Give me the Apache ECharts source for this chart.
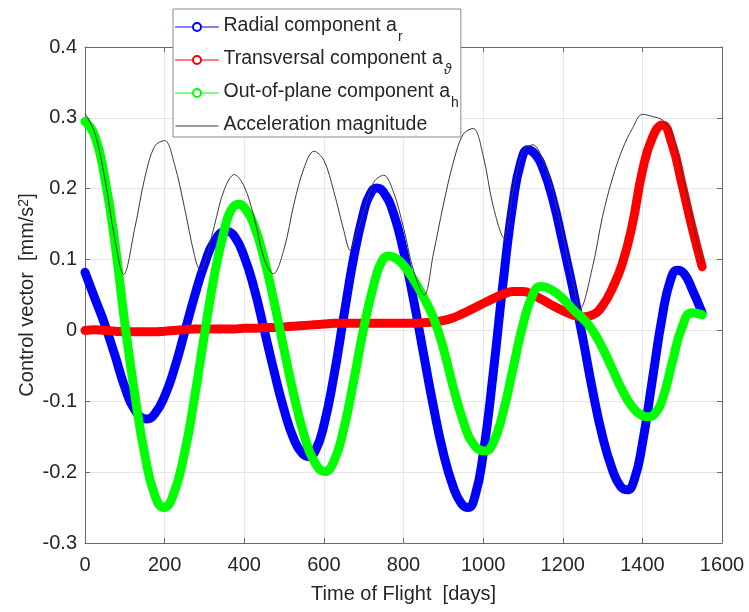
<!DOCTYPE html>
<html>
<head>
<meta charset="utf-8">
<script src="https://cdn.jsdelivr.net/npm/echarts/dist/echarts.min.js"></script>
<style>
  html, body { margin: 0; padding: 0; background: #ffffff; }
  #chart { width: 749px; height: 612px; }
</style>
</head>
<body>
<div id="chart"></div>
<script>
// Radial component a_r [mm/s^2] against time of flight [days]
const radialDays = [
  0, 25, 50, 75, 100, 125, 155, 175, 200, 225,
  250, 275, 300, 325, 355, 375, 400, 425, 450, 475,
  500, 525, 545, 562, 580, 600, 625, 650, 675, 700,
  715, 733, 750, 775, 800, 825, 850, 875, 900, 925,
  945, 962, 980, 1000, 1025, 1050, 1075, 1095, 1113, 1130,
  1150, 1175, 1200, 1225, 1250, 1275, 1300, 1325, 1345, 1362,
  1380, 1400, 1425, 1450, 1470, 1488, 1505, 1525, 1550
];
const radial = [
  0.082, 0.045, 0.008, -0.035, -0.080, -0.112, -0.125, -0.118, -0.093, -0.053,
  -0.003, 0.048, 0.093, 0.126, 0.140, 0.133, 0.104, 0.059, 0.001, -0.058,
  -0.112, -0.154, -0.173, -0.178, -0.168, -0.134, -0.065, 0.020, 0.103, 0.167,
  0.191, 0.201, 0.195, 0.165, 0.112, 0.044, -0.032, -0.107, -0.173, -0.221,
  -0.244, -0.250, -0.233, -0.175, -0.062, 0.067, 0.180, 0.238, 0.255, 0.249,
  0.229, 0.185, 0.124, 0.060, -0.010, -0.085, -0.150, -0.197, -0.220, -0.225,
  -0.210, -0.160, -0.070, 0.020, 0.070, 0.085, 0.080, 0.058, 0.025
];

// Transversal component a_theta [mm/s^2]
const transversalDays = [
  0, 25, 50, 75, 100, 125, 150, 175, 200, 225,
  250, 275, 300, 325, 350, 375, 400, 425, 450, 475,
  500, 525, 550, 575, 600, 625, 650, 675, 700, 725,
  750, 775, 800, 825, 850, 875, 900, 925, 950, 975,
  1000, 1025, 1050, 1075, 1100, 1125, 1150, 1175, 1200, 1225,
  1250, 1275, 1300, 1325, 1350, 1375, 1400, 1425, 1450, 1475,
  1500, 1525, 1550
];
const transversal = [
  0.000, 0.001, 0.000, -0.001, -0.002, -0.002, -0.002, -0.002, -0.001, 0.000,
  0.001, 0.002, 0.002, 0.002, 0.002, 0.002, 0.003, 0.003, 0.004, 0.004,
  0.005, 0.006, 0.007, 0.008, 0.009, 0.010, 0.010, 0.010, 0.010, 0.010,
  0.010, 0.010, 0.010, 0.010, 0.011, 0.012, 0.014, 0.018, 0.024, 0.031,
  0.038, 0.045, 0.051, 0.055, 0.055, 0.050, 0.043, 0.035, 0.028, 0.022,
  0.019, 0.022, 0.035, 0.060, 0.095, 0.150, 0.225, 0.272, 0.290, 0.262,
  0.205, 0.145, 0.090
];

// Out-of-plane component a_h [mm/s^2]
const outOfPlaneDays = [
  0, 25, 50, 75, 100, 125, 150, 175, 198, 220,
  250, 275, 300, 325, 350, 367, 386, 405, 425, 450,
  475, 500, 525, 550, 575, 603, 625, 650, 675, 700,
  725, 745, 763, 780, 800, 825, 850, 875, 900, 925,
  950, 975, 1005, 1025, 1050, 1075, 1100, 1125, 1145, 1170,
  1200, 1225, 1250, 1275, 1300, 1325, 1350, 1375, 1400, 1415,
  1430, 1450, 1475, 1500, 1525, 1550
];
const outOfPlane = [
  0.295, 0.274, 0.214, 0.124, 0.010, -0.090, -0.175, -0.232, -0.250, -0.235,
  -0.173, -0.095, -0.006, 0.078, 0.142, 0.170, 0.178, 0.170, 0.148, 0.101,
  0.040, -0.027, -0.092, -0.147, -0.184, -0.199, -0.185, -0.139, -0.071, 0.003,
  0.064, 0.097, 0.105, 0.102, 0.092, 0.072, 0.047, 0.018, -0.025, -0.080,
  -0.128, -0.160, -0.170, -0.159, -0.116, -0.054, 0.008, 0.051, 0.062, 0.058,
  0.045, 0.030, 0.017, 0.000, -0.025, -0.055, -0.085, -0.108, -0.120, -0.122,
  -0.118, -0.098, -0.045, 0.005, 0.025, 0.022
];

// Acceleration magnitude, sampled more finely around its minima
const magDays = [
  0, 25, 50, 75, 97, 125, 150, 175, 200, 225,
  250, 275, 289, 300, 325, 350, 375, 400, 425, 450,
  473, 500, 525, 550, 575, 600, 625, 650, 666, 675,
  700, 725, 750, 775, 800, 825, 852, 875, 900, 925,
  950, 975, 1000, 1025, 1053, 1075, 1100, 1125, 1150, 1175,
  1200, 1225, 1243, 1275, 1300, 1325, 1350, 1375, 1400, 1425,
  1450, 1475, 1500, 1525, 1550
];
const magValues = [
  0.306, 0.278, 0.214, 0.129, 0.079, 0.144, 0.215, 0.260, 0.268, 0.234,
  0.173, 0.106, 0.086, 0.093, 0.148, 0.199, 0.220, 0.203, 0.159, 0.101,
  0.080, 0.115, 0.179, 0.229, 0.253, 0.240, 0.196, 0.141, 0.113, 0.125,
  0.167, 0.209, 0.219, 0.195, 0.145, 0.085, 0.050, 0.108, 0.177, 0.237,
  0.277, 0.285, 0.247, 0.176, 0.130, 0.196, 0.252, 0.262, 0.241, 0.196,
  0.135, 0.070, 0.030, 0.090, 0.161, 0.215, 0.256, 0.285, 0.305, 0.302,
  0.297, 0.278, 0.221, 0.158, 0.096
];

// Axis ranges and tick spacing
const xRange = [0, 1600], xStep = 200;
const yRange = [-0.3, 0.4], yStep = 0.1;

const seriesNames = [
  'Radial component a_r',
  'Transversal component a_theta',
  'Out-of-plane component a_h',
  'Acceleration magnitude'
];
const legendLabels = {
  'Radial component a_r': '{m|Radial component a}{sub|r}',
  'Transversal component a_theta': '{m|Transversal component a}{subi|ϑ}',
  'Out-of-plane component a_h': '{m|Out-of-plane component a}{sub|h}',
  'Acceleration magnitude': '{m|Acceleration magnitude}'
};

const FONT = '"Liberation Sans", Arial, Helvetica, sans-serif';
const TEXT = '#262626';
const AXIS = '#6a6a6a';
const GRID = '#e6e6e6';
const FS = 20;

function pairs(xs, ys) {
  return xs.map(function (x, i) { return [x, ys[i]]; });
}

function band(name, xs, ys, color) {
  return {
    name: name,
    type: 'line',
    data: pairs(xs, ys),
    smooth: 0.5,
    symbol: 'emptyCircle',
    symbolSize: 8,
    showSymbol: false,
    lineStyle: { color: color, width: 9, cap: 'round', join: 'round' },
    itemStyle: { color: color },
    emphasis: { disabled: true },
    animation: false
  };
}

const chart = echarts.init(document.getElementById('chart'), null, { renderer: 'canvas' });

const yTickLabel = function (v) {
  const r = Math.round(v * 10) / 10;
  return r === 0 ? '0' : String(r);
};
const xTickLabel = function (v) { return String(Math.round(v)); };

chart.setOption({
  backgroundColor: '#ffffff',
  animation: false,
  textStyle: { fontFamily: FONT },
  grid: { left: 85, right: 27, top: 47, bottom: 69, containLabel: false },
  legend: {
    orient: 'vertical',
    left: 173,
    top: 9,
    padding: [7, 2, 2, 2],
    itemGap: 5,
    itemWidth: 43,
    itemHeight: 10,
    backgroundColor: '#ffffff',
    borderColor: '#8a8a8a',
    borderWidth: 1,
    borderRadius: 0,
    selectedMode: false,
    lineStyle: { width: 1 },
    itemStyle: { borderWidth: 1 },
    data: [
      seriesNames[0],
      seriesNames[1],
      seriesNames[2],
      { name: seriesNames[3], itemStyle: { opacity: 0 } }
    ],
    formatter: function (name) { return legendLabels[name]; },
    textStyle: {
      color: TEXT,
      fontFamily: FONT,
      fontSize: 19.5,
      rich: {
        m: { fontSize: 19.5, lineHeight: 22, verticalAlign: 'top', color: TEXT, fontFamily: FONT },
        sub: { fontSize: 14, lineHeight: 14, verticalAlign: 'top', padding: [14, 0, 0, 1], color: TEXT, fontFamily: FONT },
        subi: { fontSize: 14, lineHeight: 14, verticalAlign: 'top', padding: [14, 0, 0, 1], color: TEXT, fontFamily: FONT, fontStyle: 'italic' }
      }
    }
  },
  xAxis: [
    {
      type: 'value',
      min: xRange[0], max: xRange[1], interval: xStep,
      name: 'Time of Flight  [days]',
      nameLocation: 'middle',
      nameGap: 41,
      nameMoveOverlap: false,
      nameTextStyle: { color: TEXT, fontSize: FS, fontFamily: FONT },
      axisLine: { show: true, onZero: false, lineStyle: { color: AXIS, width: 1 } },
      axisTick: { show: true, inside: true, length: 5, lineStyle: { color: AXIS } },
      axisLabel: { color: TEXT, fontSize: FS, fontFamily: FONT, margin: 12, formatter: xTickLabel },
      splitLine: { show: true, lineStyle: { color: GRID, width: 1 } }
    },
    {
      type: 'value', position: 'top',
      min: xRange[0], max: xRange[1], interval: xStep,
      axisLine: { show: true, onZero: false, lineStyle: { color: AXIS, width: 1 } },
      axisTick: { show: true, inside: true, length: 5, lineStyle: { color: AXIS } },
      axisLabel: { show: false },
      splitLine: { show: false }
    }
  ],
  yAxis: [
    {
      type: 'value',
      min: yRange[0], max: yRange[1], interval: yStep,
      name: '{m|Control vector  [mm/s}{sup|2}{m|]}',
      nameLocation: 'middle',
      nameGap: 46,
      nameMoveOverlap: false,
      nameTextStyle: {
        color: TEXT, fontSize: FS, fontFamily: FONT,
        rich: {
          m: { fontSize: FS, lineHeight: 22, verticalAlign: 'top', color: TEXT, fontFamily: FONT },
          sup: { fontSize: 14, lineHeight: 14, verticalAlign: 'top', color: TEXT, fontFamily: FONT }
        }
      },
      axisLine: { show: true, onZero: false, lineStyle: { color: AXIS, width: 1 } },
      axisTick: { show: true, inside: true, length: 5, lineStyle: { color: AXIS } },
      axisLabel: { color: TEXT, fontSize: FS, fontFamily: FONT, margin: 8, formatter: yTickLabel },
      splitLine: { show: true, lineStyle: { color: GRID, width: 1 } }
    },
    {
      type: 'value', position: 'right',
      min: yRange[0], max: yRange[1], interval: yStep,
      axisLine: { show: true, onZero: false, lineStyle: { color: AXIS, width: 1 } },
      axisTick: { show: true, inside: true, length: 5, lineStyle: { color: AXIS } },
      axisLabel: { show: false },
      splitLine: { show: false }
    }
  ],
  series: [
    band(seriesNames[0], radialDays, radial, '#0000ff'),
    band(seriesNames[1], transversalDays, transversal, '#ff0000'),
    band(seriesNames[2], outOfPlaneDays, outOfPlane, '#00ff00'),
    {
      name: seriesNames[3],
      type: 'line',
      data: pairs(magDays, magValues),
      smooth: 0.35,
      symbol: 'none',
      lineStyle: { color: '#3a3a3a', width: 1 },
      itemStyle: { color: '#3a3a3a' },
      emphasis: { disabled: true },
      animation: false
    }
  ]
});
</script>
</body>
</html>
